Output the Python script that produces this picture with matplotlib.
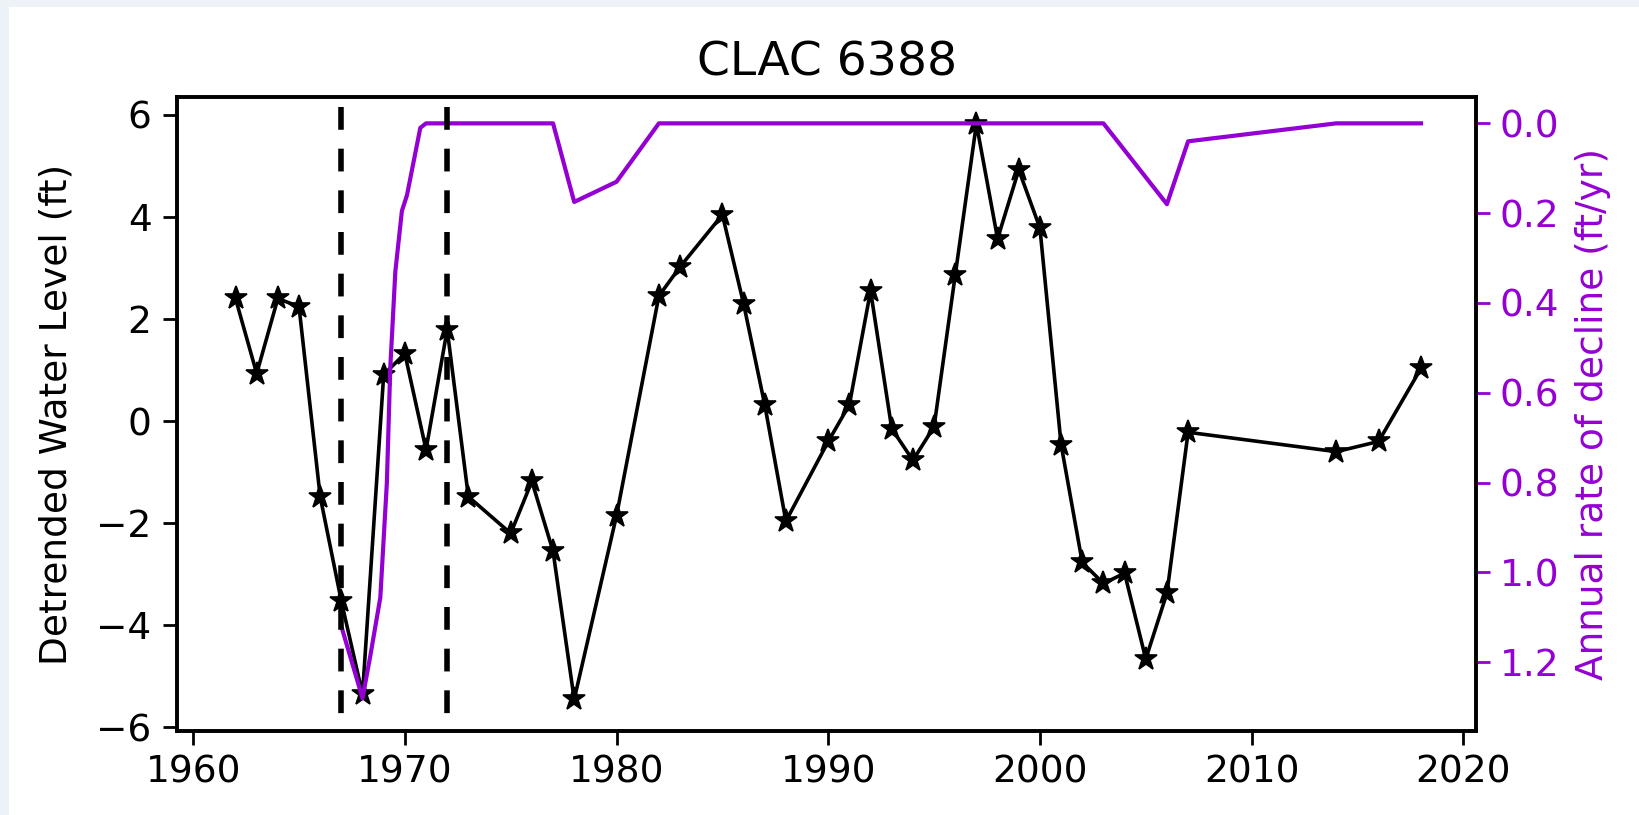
import matplotlib
matplotlib.use("Agg")
import matplotlib.pyplot as plt
from matplotlib.patches import Rectangle
from matplotlib.ticker import FormatStrFormatter

# ---- data ----
years = [1962, 1963, 1964, 1965, 1966, 1967, 1968, 1969, 1970, 1971, 1972, 1973,
         1975, 1976, 1977, 1978, 1980, 1982, 1983, 1985, 1986, 1987, 1988, 1990,
         1991, 1992, 1993, 1994, 1995, 1996, 1997, 1998, 1999, 2000, 2001, 2002,
         2003, 2004, 2005, 2006, 2007, 2014, 2016, 2018]
level = [2.40, 0.93, 2.40, 2.24, -1.48, -3.53, -5.35, 0.91, 1.32, -0.56, 1.79, -1.48,
         -2.20, -1.18, -2.55, -5.45, -1.85, 2.45, 3.02, 4.04, 2.30, 0.32, -1.96, -0.40,
         0.32, 2.55, -0.15, -0.77, -0.11, 2.86, 5.82, 3.57, 4.92, 3.78, -0.46, -2.77,
         -3.18, -2.98, -4.66, -3.37, -0.22, -0.60, -0.40, 1.03]

# vertices of the rate-of-decline curve
rate_years = [1967, 1968, 1968.37, 1968.84, 1969.15, 1969.31, 1969.55, 1969.86,
              1970.1, 1970.73, 1971, 1972, 1973, 1975, 1976, 1977, 1978, 1980,
              1982, 1983, 1985, 1986, 1987, 1988, 1990, 1991, 1992, 1993, 1994,
              1995, 1996, 1997, 1998, 1999, 2000, 2001, 2002, 2003, 2004, 2005,
              2006, 2007, 2014, 2016, 2018]
rate = [1.12, 1.28, 1.185, 1.056, 0.80, 0.545, 0.33, 0.195,
        0.16, 0.01, 0.0, 0.0, 0.0, 0.0, 0.0, 0.0, 0.175, 0.13,
        0.0, 0.0, 0.0, 0.0, 0.0, 0.0, 0.0, 0.0, 0.0, 0.0, 0.0,
        0.0, 0.0, 0.0, 0.0, 0.0, 0.0, 0.0, 0.0, 0.0, 0.06, 0.12,
        0.18, 0.04, 0.0, 0.0, 0.0]

event_years = [1967, 1972]

title = "CLAC 6388"
left_label = "Detrended Water Level (ft)"
right_label = "Annual rate of decline (ft/yr)"
x_ticks = [1960, 1970, 1980, 1990, 2000, 2010, 2020]
y_ticks = [-6, -4, -2, 0, 2, 4, 6]
rate_ticks = [0.0, 0.2, 0.4, 0.6, 0.8, 1.0, 1.2]

PURPLE = "#9400D3"
W, H = 1640, 815

fig = plt.figure(figsize=(W / 100, H / 100), dpi=100)
fig.patch.set_facecolor("#edf2f9")
fig.add_artist(Rectangle((9 / W, 0), 1, 1 - 7 / H, transform=fig.transFigure,
                         facecolor="white", edgecolor="none", zorder=-10))

ax = fig.add_axes([177.3 / W, 1 - 731 / H, (1476 - 177.3) / W, (731 - 97.3) / H])
ax2 = ax.twinx()
ax.set_facecolor("white")

ax.plot(years, level, color="black", marker="*", ms=17, mew=1.2, lw=2.6)
ax2.plot(rate_years, rate, color=PURPLE, lw=3.0)
ax2.vlines(event_years, -0.037, 1.33, colors="black", linestyles=[(0, (4.1, 3.4))], lw=4)

ax.set_xlim(1959.25, 2020.6)
ax.set_ylim(-6.07, 6.34)
ax2.set_ylim(1.353, -0.058)

ax.set_xticks(x_ticks)
ax.set_yticks(y_ticks)
ax2.set_yticks(rate_ticks)
ax2.yaxis.set_major_formatter(FormatStrFormatter("%.1f"))

ax.tick_params(axis="both", labelsize=27, length=10, width=2)
ax.tick_params(axis="x", pad=7)
ax.tick_params(axis="y", pad=8.5)
ax2.tick_params(axis="y", colors=PURPLE, labelsize=27, length=10, width=2, pad=7)

for a in (ax, ax2):
    for s in a.spines.values():
        s.set_linewidth(2.6)
        s.set_color("black")

ax.set_ylabel(left_label, fontsize=27)
ax.yaxis.set_label_coords(-0.0795, 0.5)
ax2.set_ylabel(right_label, fontsize=27, color=PURPLE)
ax2.yaxis.set_label_coords(1.0762, 0.5)
ax.set_title(title, fontsize=34, pad=16)

fig.savefig("out.png", dpi=100, facecolor=fig.get_facecolor())
